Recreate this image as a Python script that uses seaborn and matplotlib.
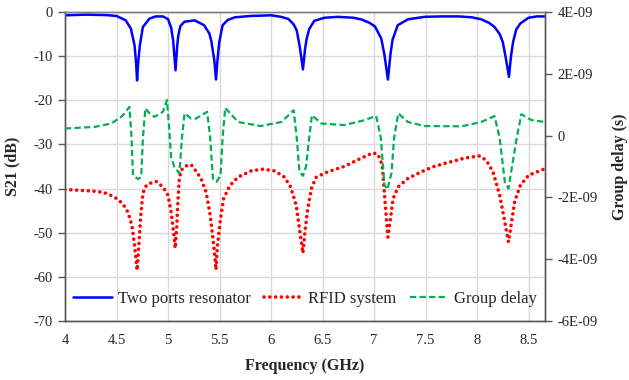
import matplotlib
matplotlib.use("Agg")
import numpy as np
import pandas as pd
import matplotlib.pyplot as plt
import seaborn as sns

# Two ports resonator S21 (dB)
res_freq = [4.00, 4.20, 4.40, 4.50, 4.59, 4.64, 4.675, 4.69, 4.70, 4.71, 4.727, 4.756,
            4.82, 4.88, 4.95, 5.00, 5.03, 5.05, 5.073, 5.09, 5.10, 5.12, 5.16, 5.26,
            5.35, 5.40, 5.42, 5.45, 5.466, 5.48, 5.498, 5.53, 5.58, 5.65, 5.80, 6.00,
            6.10, 6.17, 6.22, 6.25, 6.28, 6.31, 6.33, 6.345, 6.37, 6.42, 6.52, 6.65,
            6.80, 6.88, 6.96, 7.01, 7.07, 7.10, 7.135, 7.16, 7.18, 7.23, 7.33, 7.49,
            7.65, 7.82, 7.95, 8.04, 8.12, 8.17, 8.22, 8.25, 8.28, 8.31, 8.33, 8.35,
            8.38, 8.42, 8.50, 8.58, 8.66]
res_s21 = [-0.75, -0.6, -0.7, -0.9, -1.9, -3.8, -7.5, -11.5, -15.5, -11.5, -7.5, -3.4,
           -1.5, -1.0, -1.0, -1.6, -3.5, -6.5, -13.2, -7.5, -5.3, -3.2, -2.2, -1.9,
           -3.0, -4.8, -6.5, -11.0, -15.3, -11.0, -6.8, -3.0, -1.8, -1.2, -0.9, -0.75,
           -1.1, -1.6, -2.8, -4.2, -8.0, -13.0, -8.5, -6.2, -3.9, -2.0, -1.3, -1.1,
           -1.3, -1.7, -2.5, -3.3, -6.0, -9.5, -15.3, -9.5, -6.3, -3.0, -1.65, -1.1,
           -1.0, -1.0, -1.2, -1.65, -2.5, -3.4, -5.0, -6.8, -10.5, -14.7, -10.0, -6.8,
           -4.0, -2.6, -1.3, -1.0, -1.0]

# RFID system S21 (dB)
rfid_freq = [4.00, 4.15, 4.285, 4.38, 4.48, 4.56, 4.61, 4.65, 4.675, 4.70, 4.717, 4.733,
             4.756, 4.78, 4.81, 4.885, 4.95, 5.00, 5.03, 5.054, 5.07, 5.086, 5.096, 5.11,
             5.13, 5.17, 5.225, 5.255, 5.32, 5.37, 5.41, 5.444, 5.466, 5.48, 5.51, 5.54,
             5.60, 5.68, 5.806, 5.92, 6.035, 6.13, 6.19, 6.245, 6.276, 6.31, 6.33, 6.357,
             6.395, 6.44, 6.55, 6.71, 6.876, 6.99, 7.04, 7.08, 7.105, 7.12, 7.135, 7.16,
             7.185, 7.235, 7.33, 7.46, 7.57, 7.685, 7.88, 8.025, 8.09, 8.155, 8.22, 8.27,
             8.305, 8.33, 8.365, 8.42, 8.50, 8.66]
rfid_s21 = [-40.2, -40.4, -40.6, -40.9, -41.9, -43.4, -45.3, -48.3, -52.8, -58.5, -52.8, -46.8,
            -41.1, -39.6, -38.9, -38.4, -39.6, -41.5, -45.3, -49.8, -53.5, -48.3, -43.0, -37.7,
            -35.8, -34.9, -34.6, -35.5, -37.7, -40.8, -46.1, -52.9, -58.4, -52.9, -46.8, -42.3,
            -39.3, -37.4, -36.0, -35.6, -36.0, -37.4, -39.6, -43.8, -49.1, -54.6, -49.6, -44.5,
            -39.7, -37.4, -36.2, -35.0, -33.1, -31.9, -32.3, -34.7, -42.3, -46.8, -51.0, -46.8,
            -42.3, -39.6, -37.7, -36.2, -35.1, -34.3, -33.1, -32.6, -33.6, -36.2, -41.5, -47.6,
            -52.1, -48.4, -43.0, -39.3, -37.0, -35.5]

# Group delay (ns)
gd_freq = [4.00, 4.285, 4.45, 4.545, 4.58, 4.626, 4.645, 4.66, 4.71, 4.74, 4.756, 4.78,
           4.83, 4.87, 4.95, 4.99, 5.01, 5.03, 5.06, 5.11, 5.135, 5.16, 5.225, 5.27,
           5.38, 5.41, 5.436, 5.47, 5.51, 5.53, 5.555, 5.68, 5.90, 6.10, 6.22, 6.25,
           6.276, 6.31, 6.34, 6.37, 6.397, 6.49, 6.71, 6.91, 7.02, 7.067, 7.10, 7.13,
           7.17, 7.195, 7.235, 7.33, 7.49, 7.85, 8.04, 8.17, 8.22, 8.27, 8.305, 8.34,
           8.385, 8.43, 8.53, 8.66]
gd_ns = [0.23, 0.28, 0.39, 0.61, 0.72, 0.93, 0.0, -1.28, -1.41, -1.33, -0.09, 0.88,
         0.68, 0.61, 0.77, 1.15, 0.3, -0.7, -1.0, -1.22, -0.09, 0.72, 0.55, 0.55,
         0.77, -0.08, -1.39, -1.50, -1.28, -0.08, 0.90, 0.44, 0.31, 0.44, 0.82, -0.08,
         -1.17, -1.30, -1.0, -0.1, 0.66, 0.39, 0.34, 0.50, 0.64, -0.08, -1.6, -1.74,
         -1.2, -0.08, 0.72, 0.44, 0.31, 0.30, 0.44, 0.63, -0.08, -1.5, -1.71, -1.0,
         -0.08, 0.69, 0.50, 0.44]

x_ticks = [4, 4.5, 5, 5.5, 6, 6.5, 7, 7.5, 8, 8.5]
x_tick_labels = ["4", "4.5", "5", "5.5", "6", "6.5", "7", "7.5", "8", "8.5"]
s21_ticks = [0, -10, -20, -30, -40, -50, -60, -70]
delay_ticks = [4e-9, 2e-9, 0, -2e-9, -4e-9, -6e-9]
delay_tick_labels = ["4E-09", "2E-09", "0", "-2E-09", "-4E-09", "-6E-09"]

res_df = pd.DataFrame({"freq": res_freq, "s21": res_s21})
rfid_df = pd.DataFrame({"freq": rfid_freq, "s21": rfid_s21})
gd_df = pd.DataFrame({"freq": gd_freq, "delay": np.array(gd_ns) * 1e-9})

sns.set_theme(style="whitegrid")
plt.rcParams["font.family"] = ["Liberation Serif", "DejaVu Serif"]
plt.rcParams["axes.unicode_minus"] = False

fig = plt.figure(figsize=(6.29, 3.80), dpi=100)
ax = fig.add_axes([65 / 629, 59 / 380, 480 / 629, 309 / 380])
ax2 = ax.twinx()

sns.lineplot(data=res_df, x="freq", y="s21", ax=ax, color="#0000FF", lw=1.8,
             label="Two ports resonator", sort=False)
sns.lineplot(data=rfid_df, x="freq", y="s21", ax=ax, color="#FF0000", lw=2.6,
             linestyle=(0, (0.01, 1.6)), dash_capstyle="round",
             label="RFID system", sort=False)
sns.lineplot(data=gd_df, x="freq", y="delay", ax=ax2, color="#00B050", lw=1.6,
             linestyle=(0, (2.8, 1.5)), label="Group delay", sort=False)

for a in (ax, ax2):
    if a.get_legend() is not None:
        a.get_legend().remove()

ax.set_xlim(4, 8.66)
ax.set_ylim(-70, 0)
ax.set_xticks(x_ticks)
ax.set_xticklabels(x_tick_labels)
ax.set_yticks(s21_ticks)
ax.set_yticklabels([str(t) for t in s21_ticks])
ax.grid(True, color="#D9D9D9", lw=1.0)
ax.set_axisbelow(True)

ax2.set_ylim(-6e-9, 4e-9)
ax2.set_yticks(delay_ticks)
ax2.set_yticklabels(delay_tick_labels)
ax2.grid(False)

for a in (ax, ax2):
    for side, sp in a.spines.items():
        sp.set_color("#595959")
        sp.set_linewidth(1.0)
    a.spines["top"].set_color("#7F7F7F")

ax.tick_params(axis="y", which="major", direction="out", length=5, width=1,
               color="#595959", labelsize=10.5, pad=4, left=True)
ax.tick_params(axis="x", which="major", length=0, labelsize=10.5, pad=9)
ax2.tick_params(axis="y", which="major", direction="out", length=5, width=1,
                color="#595959", labelsize=10.5, pad=4, right=True)

ax.set_xlabel("Frequency (GHz)", fontsize=11.5, fontweight="bold")
ax.set_ylabel("S21 (dB)", fontsize=11.5, fontweight="bold")
ax2.set_ylabel("Group delay (s)", fontsize=11.5, fontweight="bold")
ax.xaxis.set_label_coords(0.5, -0.12)
ax.yaxis.set_label_coords(-0.092, 0.5)
ax2.yaxis.set_label_coords(1.14, 0.5)

handles = ax.get_lines()[:2] + ax2.get_lines()[:1]
labels = ["Two ports resonator", "RFID system", "Group delay"]
ax2.legend(handles, labels, ncol=3, frameon=False, loc="center",
           bbox_to_anchor=(0.5, 0.071), fontsize=12, handlelength=2.3,
           handletextpad=0.35, columnspacing=0.8)

fig.savefig("out.png", dpi=100)
